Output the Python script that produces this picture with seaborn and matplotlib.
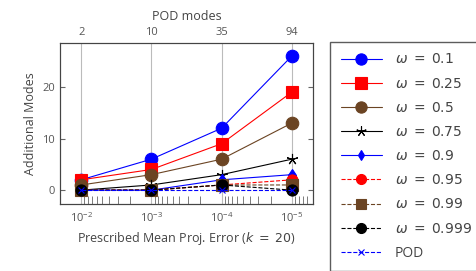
import numpy as np
import pandas as pd
import matplotlib
matplotlib.use('Agg')
import matplotlib.pyplot as plt
import seaborn as sns

# Data
errors = [1e-2, 1e-3, 1e-4, 1e-5]
pod_modes = ['2', '10', '35', '94']
labels = [r'$\omega\;=\;0.1$', r'$\omega\;=\;0.25$', r'$\omega\;=\;0.5$', r'$\omega\;=\;0.75$',
          r'$\omega\;=\;0.9$', r'$\omega\;=\;0.95$', r'$\omega\;=\;0.99$', r'$\omega\;=\;0.999$', 'POD']
w_01 = [2, 6, 12, 26]
w_025 = [2, 4, 9, 19]
w_05 = [1, 3, 6, 13]
w_075 = [0, 1, 3, 6]
w_09 = [0, 0, 2, 3]
w_095 = [0, 0, 1, 2]
w_099 = [0, 0, 1, 1]
w_0999 = [0, 0, 1, 0]
pod = [0, 0, 0, 0]

series = [w_01, w_025, w_05, w_075, w_09, w_095, w_099, w_0999, pod]
colors = ['#0000ff', '#ff0000', '#6b4423', '#000000', '#0000ff', '#ff0000', '#6b4423', '#000000', '#0000ff']
markers = ['o', 's', 'o', (5, 2, 0), 'd', 'o', 's', 'o', 'x']
msizes = [9, 9, 9, 8, 6, 8, 8, 8, 5]
styles = ['-', '-', '-', '-', '-', '--', '--', '--', '--']

sns.set_style('ticks')
plt.rcParams['font.family'] = ['Open Sans', 'DejaVu Sans']

fig = plt.figure(figsize=(4.77, 2.71), dpi=100)
ax = fig.add_axes([0.126, 0.247, 0.53, 0.594])

handles = []
for vals, lab, c, m, ms, ls in zip(series, labels, colors, markers, msizes, styles):
    df = pd.DataFrame({'err': errors, 'modes': vals})
    sns.lineplot(data=df, x='err', y='modes', ax=ax, color=c, marker=m, markersize=ms,
                 linestyle=ls, linewidth=0.8, markeredgecolor=c, markeredgewidth=0.8,
                 legend=False, zorder=3)
    handles.append(ax.lines[-1])

ax.set_xscale('log')
ax.set_xlim(10 ** -1.7, 10 ** -5.3)
ax.set_ylim(-2.7, 28.5)
ax.set_yticks([0, 10, 20])
ax.set_xticks(errors)
ax.grid(axis='x', color='#bbbbbb', linewidth=0.8)
ax.tick_params(axis='both', which='both', direction='in', top=False, right=True,
               colors='#666666', labelcolor='#555555', labelsize=8)
ax.tick_params(axis='x', which='minor', length=6)
ax.tick_params(axis='x', which='major', length=0, pad=5)
ax.set_xlabel(r'Prescribed Mean Proj. Error ($k\;=\;20$)', fontsize=9, color='#444444')
ax.set_ylabel('Additional Modes', fontsize=9, color='#444444')
for s in ax.spines.values():
    s.set_color('#444444')

top = ax.twiny()
top.set_xscale('log')
top.set_xlim(ax.get_xlim())
top.set_xticks(errors)
top.set_xticklabels(pod_modes)
top.minorticks_off()
top.tick_params(axis='x', length=0, labelsize=8, labelcolor='#555555', pad=4)
top.set_xlabel('POD modes', fontsize=9, color='#444444', labelpad=5)
for s in top.spines.values():
    s.set_color('#444444')

leg = fig.legend(handles, labels, loc='upper left', bbox_to_anchor=(0.692, 0.845),
                 frameon=True, fancybox=False, edgecolor='#333333', fontsize=10,
                 handlelength=3.0, handletextpad=0.9, labelspacing=0.66, borderaxespad=0,
                 borderpad=0.75, markerscale=0.9)
for t in leg.get_texts():
    t.set_color('#444444')
leg.get_frame().set_linewidth(1.0)

fig.savefig('out.png', dpi=100)
